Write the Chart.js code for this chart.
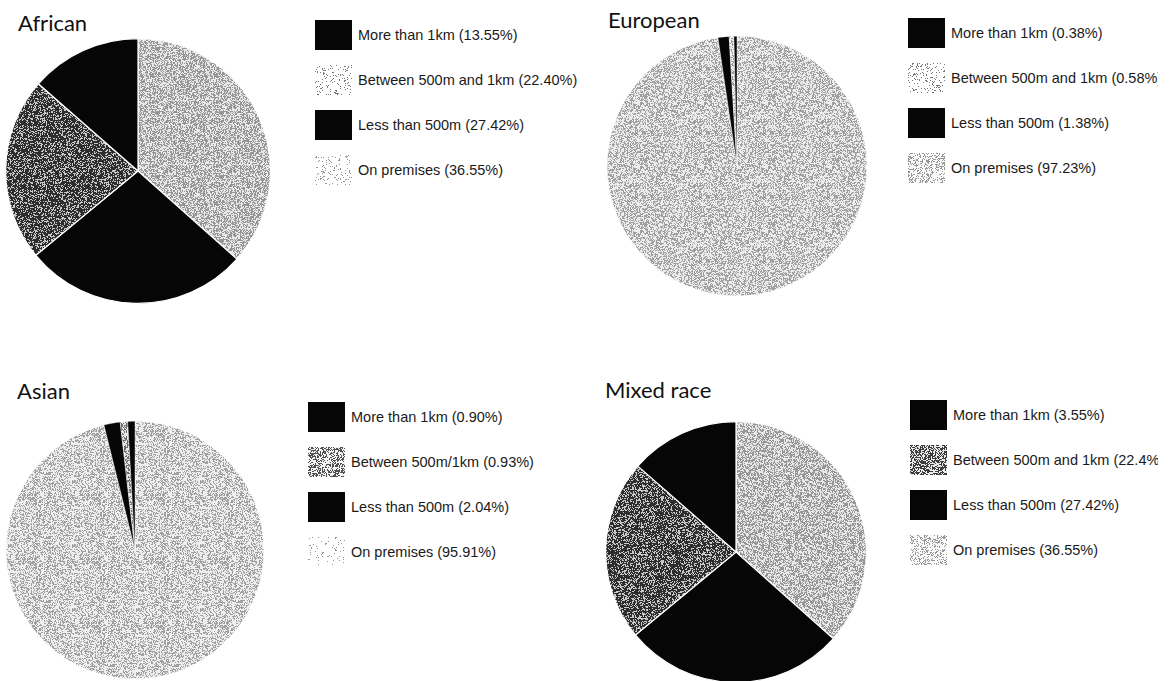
<!DOCTYPE html>
<html><head><meta charset="utf-8">
<script src="https://cdn.jsdelivr.net/npm/chart.js@4.4.1/dist/chart.umd.min.js"></script>
<style>
html,body{margin:0;padding:0;background:#fff;width:1174px;height:681px;overflow:hidden;}
#wrap{position:relative;width:1158px;height:681px;overflow:hidden;}
.title{position:absolute;font-family:Lato,"Open Sans",sans-serif;font-size:22px;color:#111;line-height:22px;white-space:nowrap;}
.pie{position:absolute;}
.leg{position:absolute;font-family:"Liberation Sans",Arial,sans-serif;font-size:14.5px;color:#1a1a1a;}
.row{position:absolute;left:0;height:30px;display:flex;align-items:center;white-space:nowrap;}
.sw{width:37px;height:30px;margin-right:6px;flex:none;}
</style></head><body><div id="wrap"></div>
<script>
// ---- data ----
const categories = ['On premises', 'Less than 500m', 'Between 500m and 1km', 'More than 1km'];
const africanValues  = [36.55, 27.42, 22.40, 13.55];
const europeanValues = [97.23, 1.38, 0.58, 0.38];
const asianValues    = [95.91, 2.04, 0.93, 0.90];
const mixedValues    = [36.55, 27.42, 22.40, 13.55];
const africanLegend  = ['More than 1km (13.55%)', 'Between 500m and 1km (22.40%)', 'Less than 500m (27.42%)', 'On premises (36.55%)'];
const europeanLegend = ['More than 1km (0.38%)', 'Between 500m and 1km (0.58%)', 'Less than 500m (1.38%)', 'On premises (97.23%)'];
const asianLegend    = ['More than 1km (0.90%)', 'Between 500m/1km (0.93%)', 'Less than 500m (2.04%)', 'On premises (95.91%)'];
const mixedLegend    = ['More than 1km (3.55%)', 'Between 500m and 1km (22.4%)', 'Less than 500m (27.42%)', 'On premises (36.55%)'];
const titles = ['African', 'European', 'Asian', 'Mixed race'];

// ---- textures ----
function hash(x, y, s) { const n = Math.sin(x * 12.9898 + y * 78.233 + s * 37.719) * 43758.5453; return n - Math.floor(n); }
function makeTile(p, darkV, lightV, seed) {
  const c = document.createElement('canvas'); c.width = c.height = 64;
  const ctx = c.getContext('2d'); const img = ctx.createImageData(64, 64);
  for (let y = 0; y < 64; y++) for (let x = 0; x < 64; x++) {
    const v = hash(x, y, seed) < p ? darkV : lightV; const i = (y * 64 + x) * 4;
    img.data[i] = img.data[i + 1] = img.data[i + 2] = v; img.data[i + 3] = 255;
  }
  ctx.putImageData(img, 0, 0); return c;
}
const wrap = document.getElementById('wrap');

const layouts = [
  { values: africanValues, legend: africanLegend, cx: 138, cy: 171, r: 133, tx: 18, tb: 30, lx: 315, ly: 20,
    tex: { prem: [0.5, 150, 232], betw: [0.68, 45, 200] }, swTex: { prem: [0.12, 150, 255], betw: [0.15, 120, 255] }, bw: 1.2 },
  { values: europeanValues, legend: europeanLegend, cx: 737, cy: 166, r: 130, tx: 608, tb: 27, lx: 908, ly: 18,
    tex: { prem: [0.45, 160, 236], betw: [0.4, 150, 240] }, swTex: { prem: [0.35, 150, 250], betw: [0.15, 120, 255] }, bw: 0.4 },
  { values: asianValues, legend: asianLegend, cx: 135, cy: 550, r: 129, tx: 17, tb: 398, lx: 308, ly: 402,
    tex: { prem: [0.4, 160, 238], betw: [0.5, 110, 230] }, swTex: { prem: [0.05, 150, 255], betw: [0.45, 80, 245] }, bw: 0.4 },
  { values: mixedValues, legend: mixedLegend, cx: 736, cy: 552, r: 131, tx: 605, tb: 397, lx: 910, ly: 400,
    tex: { prem: [0.5, 150, 232], betw: [0.68, 45, 200] }, swTex: { prem: [0.3, 150, 250], betw: [0.55, 60, 235] }, bw: 1.2 }
];

layouts.forEach((L, k) => {
  // title
  const t = document.createElement('div'); t.className = 'title'; t.textContent = titles[k];
  t.style.left = L.tx + 'px'; t.style.top = (L.tb - 18.5) + 'px'; wrap.appendChild(t);
  // pie
  const pad = 2, size = 2 * L.r + 2 * pad;
  const cv = document.createElement('canvas'); cv.className = 'pie';
  cv.width = size; cv.height = size; cv.style.width = size + 'px'; cv.style.height = size + 'px';
  cv.style.left = (L.cx - L.r - pad) + 'px'; cv.style.top = (L.cy - L.r - pad) + 'px';
  wrap.appendChild(cv);
  const ctx = cv.getContext('2d');
  const premPat = ctx.createPattern(makeTile(...L.tex.prem, 3 + k), 'repeat');
  const betwPat = ctx.createPattern(makeTile(...L.tex.betw, 7 + k), 'repeat');
  new Chart(cv, {
    type: 'pie',
    data: { labels: categories, datasets: [{ data: L.values,
      backgroundColor: [premPat, '#060606', betwPat, '#060606'],
      borderColor: '#ffffff', borderWidth: L.bw }] },
    options: { responsive: false, animation: false, devicePixelRatio: 1,
      layout: { padding: pad },
      plugins: { legend: { display: false }, tooltip: { enabled: false } } }
  });
  // legend (order: More, Between, Less, On premises)
  const lg = document.createElement('div'); lg.className = 'leg';
  lg.style.left = L.lx + 'px'; lg.style.top = L.ly + 'px'; wrap.appendChild(lg);
  const swFill = [
    '#060606',
    'url(' + makeTile(...L.swTex.betw, 11 + k).toDataURL() + ')',
    '#060606',
    'url(' + makeTile(...L.swTex.prem, 17 + k).toDataURL() + ')'
  ];
  L.legend.forEach((txt, i) => {
    const row = document.createElement('div'); row.className = 'row'; row.style.top = (i * 45) + 'px';
    const sw = document.createElement('div'); sw.className = 'sw';
    if (swFill[i].startsWith('url')) sw.style.backgroundImage = swFill[i]; else sw.style.background = swFill[i];
    const sp = document.createElement('span'); sp.textContent = txt;
    row.appendChild(sw); row.appendChild(sp); lg.appendChild(row);
  });
});
</script></body></html>
